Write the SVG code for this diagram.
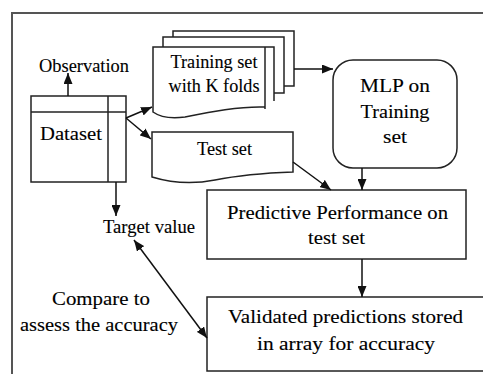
<svg xmlns="http://www.w3.org/2000/svg" width="483" height="374" viewBox="0 0 483 374">
<defs>
<style>
text{font-family:'Liberation Serif','DejaVu Serif',serif;font-size:19px;fill:#000;stroke:#000;stroke-width:0.12;text-anchor:middle}
.s{fill:#fff;stroke:#222;stroke-width:1.5}
.n{fill:none;stroke:#222;stroke-width:1.5}
.c{fill:none;stroke:#111;stroke-width:1.5}
</style>
<marker id="ah" viewBox="0 0 11 9" refX="11" refY="4.5" markerWidth="11" markerHeight="9" markerUnits="userSpaceOnUse" orient="auto-start-reverse">
<path d="M0,0 L11,4.5 L0,9 Z" fill="#111"/>
</marker>
</defs>
<rect width="483" height="374" fill="#fff"/>
<path d="M12,374 V13 H483" fill="none" stroke="#555" stroke-width="2"/>

<g id="dataset">
<rect class="s" x="31" y="96" width="95" height="86"/>
<line class="n" x1="108" y1="96" x2="108" y2="182"/>
<line class="n" x1="31" y1="112" x2="126" y2="112"/>
<text font-family="Liberation Serif, serif" x="71" y="140" textLength="62" lengthAdjust="spacingAndGlyphs">Dataset</text>
</g>

<g id="observation">
<text font-family="Liberation Serif, serif" x="84" y="72" textLength="90" lengthAdjust="spacingAndGlyphs">Observation</text>
</g>

<g id="target">
<text font-family="Liberation Serif, serif" x="149" y="233" textLength="92" lengthAdjust="spacingAndGlyphs">Target value</text>
</g>

<g id="training">
<rect class="s" x="173" y="31" width="121" height="55"/>
<rect class="s" x="163" y="37" width="121" height="56"/>
<path d="M153,47 H274 V101 L265,107 C240,106 210,112 185,117 C170,119 160,117 153,112 Z" fill="#fff"/>
<path class="n" d="M274,101 V47 H153 V112 C160,117 170,119 185,117 C210,112 240,106 265,107"/>
<line class="n" x1="265" y1="47" x2="265" y2="109"/>
<text font-family="Liberation Serif, serif" x="214" y="68" textLength="87" lengthAdjust="spacingAndGlyphs">Training set</text>
<text font-family="Liberation Serif, serif" x="214" y="92" textLength="91" lengthAdjust="spacingAndGlyphs">with K folds</text>
</g>

<g id="testset">
<path class="s" d="M152,132 H293 V172 C265,173 240,175 215,180 C195,184 175,184 152,177 Z"/>
<text font-family="Liberation Serif, serif" x="224.5" y="155" textLength="55" lengthAdjust="spacingAndGlyphs">Test set</text>
</g>

<g id="mlp">
<rect class="s" x="333" y="60" width="124" height="108" rx="20" ry="20"/>
<text font-family="Liberation Serif, serif" x="395" y="92" textLength="70" lengthAdjust="spacingAndGlyphs">MLP on</text>
<text font-family="Liberation Serif, serif" x="395" y="118" textLength="69" lengthAdjust="spacingAndGlyphs">Training</text>
<text font-family="Liberation Serif, serif" x="395" y="143" textLength="24" lengthAdjust="spacingAndGlyphs">set</text>
</g>

<g id="predictive">
<rect class="s" x="207" y="190" width="259" height="69"/>
<text font-family="Liberation Serif, serif" x="337.5" y="219" textLength="221" lengthAdjust="spacingAndGlyphs">Predictive Performance on</text>
<text font-family="Liberation Serif, serif" x="336.5" y="244" textLength="57" lengthAdjust="spacingAndGlyphs">test set</text>
</g>

<g id="validated">
<rect class="s" x="207" y="297" width="290" height="74"/>
<text font-family="Liberation Serif, serif" x="345.5" y="323" textLength="235" lengthAdjust="spacingAndGlyphs">Validated predictions stored</text>
<text font-family="Liberation Serif, serif" x="346" y="350" textLength="178" lengthAdjust="spacingAndGlyphs">in array for accuracy</text>
</g>

<g id="compare">
<text font-family="Liberation Serif, serif" x="101" y="305" textLength="98" lengthAdjust="spacingAndGlyphs">Compare to</text>
<text font-family="Liberation Serif, serif" x="99" y="331" textLength="158" lengthAdjust="spacingAndGlyphs">assess the accuracy</text>
</g>

<g id="connectors">
<line class="c" x1="68" y1="96" x2="68" y2="73" marker-end="url(#ah)"/>
<line class="c" x1="126" y1="118" x2="152" y2="107" marker-end="url(#ah)"/>
<line class="c" x1="126" y1="118" x2="151" y2="139" marker-end="url(#ah)"/>
<line class="c" x1="294" y1="69" x2="333" y2="69" marker-end="url(#ah)"/>
<line class="c" x1="293" y1="162" x2="331" y2="190" marker-end="url(#ah)"/>
<line class="c" x1="362" y1="168" x2="362" y2="190" marker-end="url(#ah)"/>
<line class="c" x1="362" y1="259" x2="362" y2="297" marker-end="url(#ah)"/>
<line class="c" x1="116" y1="182" x2="116" y2="216" marker-end="url(#ah)"/>
<line class="c" x1="134" y1="240" x2="207" y2="338" marker-start="url(#ah)" marker-end="url(#ah)"/>
</g>
</svg>
